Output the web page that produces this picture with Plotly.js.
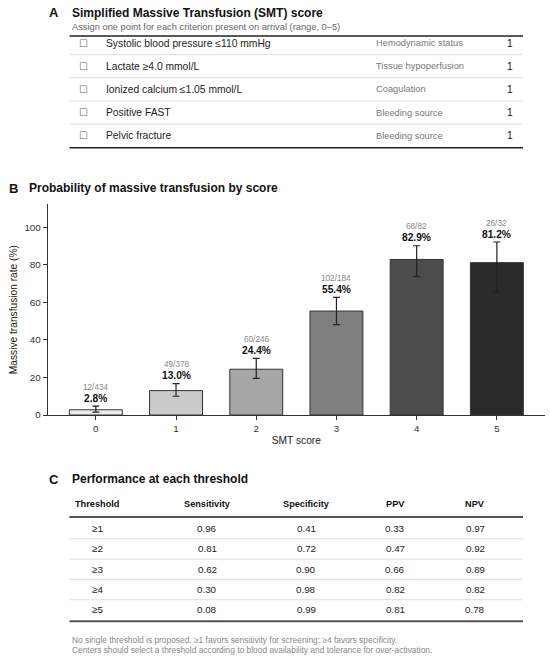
<!DOCTYPE html>
<html>
<head>
<meta charset="utf-8">
<script src="https://cdn.plot.ly/plotly-3.0.1.min.js"></script>
<style>
  html, body { margin: 0; padding: 0; background: #fff; }
  #chart { width: 550px; height: 657px; }
</style>
</head>
<body>
<div id="chart"></div>
<script>
// ---- panel A: SMT score items ----
const criteria = [
  "Systolic blood pressure ≤110 mmHg",
  "Lactate ≥4.0 mmol/L",
  "Ionized calcium ≤1.05 mmol/L",
  "Positive FAST",
  "Pelvic fracture"
];
const domains = ["Hemodynamic status", "Tissue hypoperfusion", "Coagulation", "Bleeding source", "Bleeding source"];
const points = [1, 1, 1, 1, 1];

// ---- panel B: MT rate by score ----
const scores = ["0", "1", "2", "3", "4", "5"];
const events = [12, 49, 60, 102, 68, 26];
const totals = [434, 378, 246, 184, 82, 32];
const rates = [2.8, 13.0, 24.4, 55.4, 82.9, 81.2];
const ciLow = [1.5, 10.0, 19.5, 48.2, 73.9, 65.5];
const ciHigh = [4.7, 16.7, 30.2, 62.7, 90.2, 92.2];
const barColors = ["#ebebeb", "#cbcbcb", "#a7a7a7", "#7f7f7f", "#4c4c4c", "#2b2b2b"];

// ---- panel C: threshold performance ----
const thresholds = ["≥1", "≥2", "≥3", "≥4", "≥5"];
const sensitivity = [0.96, 0.81, 0.62, 0.30, 0.08];
const specificity = [0.41, 0.72, 0.90, 0.98, 0.99];
const ppv = [0.33, 0.47, 0.66, 0.82, 0.81];
const npv = [0.97, 0.92, 0.89, 0.82, 0.78];

const W = 550, H = 657;
const FONT = "Liberation Sans, Arial, Helvetica, sans-serif";
const px = x => x / W;
const py = y => 1 - y / H;

const annotations = [];
const shapes = [];

function label(text, x, y, size, color, extra = {}) {
  annotations.push({
    text, x: px(x), y: py(y), xref: "paper", yref: "paper",
    showarrow: false, xanchor: "left", yanchor: "middle",
    font: { family: FONT, size, color },
    ...extra
  });
}

function hline(x0, x1, yref, y, color, width) {
  shapes.push({
    type: "line", xref: "paper", yref,
    x0: px(x0), x1: px(x1), y0: y, y1: y,
    line: { color, width }
  });
}

const tableLeft = 69.5, tableRight = 523;

// ---- panel A ----
label("<b>A</b>", 47, 12.5, 13, "#111");
label("<b>Simplified Massive Transfusion (SMT) score</b>", 70, 12.5, 12, "#111");
label("Assign one point for each criterion present on arrival (range, 0–5)", 70, 26.5, 9.3, "#666");

criteria.forEach((c, i) => {
  annotations.push({ text: "☐", xref: "paper", yref: "y2", x: px(83.5), y: i, showarrow: false,
    xanchor: "center", yanchor: "middle", font: { family: "DejaVu Sans", size: 10, color: "#666" } });
  annotations.push({ text: c, xref: "paper", yref: "y2", x: px(103.5), y: i, showarrow: false,
    xanchor: "left", yanchor: "middle", font: { family: FONT, size: 10.3, color: "#222" } });
  annotations.push({ text: domains[i], xref: "paper", yref: "y2", x: px(374), y: i, showarrow: false,
    xanchor: "left", yanchor: "middle", font: { family: FONT, size: 9.3, color: "#777" } });
  annotations.push({ text: String(points[i]), xref: "paper", yref: "y2", x: px(509.5), y: i, showarrow: false,
    xanchor: "center", yanchor: "middle", font: { family: FONT, size: 10.3, color: "#111" } });
  if (i < criteria.length - 1) hline(tableLeft, tableRight, "y2", i + 0.5, "#dddddd", 1);
});
hline(tableLeft, tableRight, "y2 domain", 1, "#222", 1.5);
hline(tableLeft, tableRight, "y2 domain", 0, "#222", 1.5);

// ---- panel B ----
label("<b>B</b>", 6.5, 188, 13, "#111");
label("<b>Probability of massive transfusion by score</b>", 27, 188, 12, "#111");

scores.forEach((s, i) => {
  annotations.push({ text: `<b>${rates[i].toFixed(1)}%</b>`, xref: "x", yref: "y", x: s, y: ciHigh[i],
    yshift: 8, showarrow: false, xanchor: "center", yanchor: "middle",
    font: { family: FONT, size: 10.2, color: "#111" } });
  annotations.push({ text: `${events[i]}/${totals[i]}`, xref: "x", yref: "y", x: s, y: ciHigh[i],
    yshift: 19, showarrow: false, xanchor: "center", yanchor: "middle",
    font: { family: FONT, size: 8.2, color: "#888" } });
});

// ---- panel C ----
label("<b>C</b>", 47, 479, 13, "#111");
label("<b>Performance at each threshold</b>", 70, 479, 12, "#111");

const colX = [97, 207, 306, 395, 475];
const colHead = ["Threshold", "Sensitivity", "Specificity", "PPV", "NPV"];
const colVals = [thresholds, sensitivity, specificity, ppv, npv];
colHead.forEach((h, j) => {
  annotations.push({ text: `<b>${h}</b>`, xref: "paper", yref: "y3", x: px(colX[j]), y: -1.217,
    showarrow: false, xanchor: "center", yanchor: "middle", font: { family: FONT, size: 9.2, color: "#111" } });
  colVals[j].forEach((v, i) => {
    annotations.push({ text: typeof v === "number" ? v.toFixed(2) : v, xref: "paper", yref: "y3",
      x: px(colX[j]), y: i, showarrow: false, xanchor: "center", yanchor: "middle",
      font: { family: FONT, size: 9.8, color: "#222" } });
  });
});
thresholds.forEach((t, i) => {
  if (i < thresholds.length - 1) hline(tableLeft, tableRight, "y3", i + 0.5, "#dddddd", 1);
});
hline(tableLeft, tableRight, "y3", -0.576, "#555", 2);
hline(tableLeft, tableRight, "y3 domain", 0, "#555", 2);

label("No single threshold is proposed. ≥1 favors sensitivity for screening; ≥4 favors specificity.", 70, 640, 8.4, "#888");
label("Centers should select a threshold according to blood availability and tolerance for over-activation.", 70, 649.5, 8.4, "#888");

// ---- traces ----
const bars = {
  type: "bar",
  x: scores,
  y: rates,
  width: 0.66,
  marker: { color: barColors, line: { color: "#333", width: 1 } },
  error_y: {
    type: "data", symmetric: false,
    array: ciHigh.map((h, i) => h - rates[i]),
    arrayminus: ciLow.map((l, i) => rates[i] - l),
    color: "#222", thickness: 1.2, width: 3.5
  },
  hoverinfo: "skip",
  showlegend: false
};
const holderA = { type: "scatter", x: [], y: [], xaxis: "x2", yaxis: "y2", hoverinfo: "skip", showlegend: false };
const holderC = { type: "scatter", x: [], y: [], xaxis: "x3", yaxis: "y3", hoverinfo: "skip", showlegend: false };

const axisFont = { family: FONT, size: 9.8, color: "#333" };

const layout = {
  width: W, height: H,
  margin: { l: 0, r: 0, t: 0, b: 0 },
  paper_bgcolor: "#fff",
  plot_bgcolor: "#fff",
  font: { family: FONT },
  showlegend: false,
  xaxis: {
    type: "category",
    domain: [px(47.7), px(545)],
    range: [-0.6, 5.6],
    showline: true, linecolor: "#333", linewidth: 1,
    ticks: "outside", ticklen: 4, tickcolor: "#333",
    showgrid: false, zeroline: false,
    tickfont: axisFont,
    title: { text: "SMT score", font: { family: FONT, size: 10.2, color: "#222" }, standoff: 4 },
    fixedrange: true
  },
  yaxis: {
    domain: [py(415), py(204.3)],
    range: [0, 112.3],
    tickvals: [0, 20, 40, 60, 80, 100],
    showline: true, linecolor: "#333", linewidth: 1,
    ticks: "outside", ticklen: 4, tickcolor: "#333",
    showgrid: false, zeroline: false,
    tickfont: axisFont,
    title: { text: "Massive transfusion rate (%)", font: { family: FONT, size: 10.2, color: "#222" }, standoff: 4 },
    fixedrange: true
  },
  xaxis2: { domain: [0, 1], range: [0, 1], visible: false, anchor: "y2", fixedrange: true },
  yaxis2: { domain: [py(147.7), py(36)], range: [4.513, -0.302], visible: false, anchor: "x2", fixedrange: true },
  xaxis3: { domain: [0, 1], range: [0, 1], visible: false, anchor: "y3", fixedrange: true },
  yaxis3: { domain: [py(621.3), py(494)], range: [4.562, -1.709], visible: false, anchor: "x3", fixedrange: true },
  annotations,
  shapes
};

Plotly.newPlot("chart", [bars, holderA, holderC], layout, { displayModeBar: false, staticPlot: true });
</script>
</body>
</html>
